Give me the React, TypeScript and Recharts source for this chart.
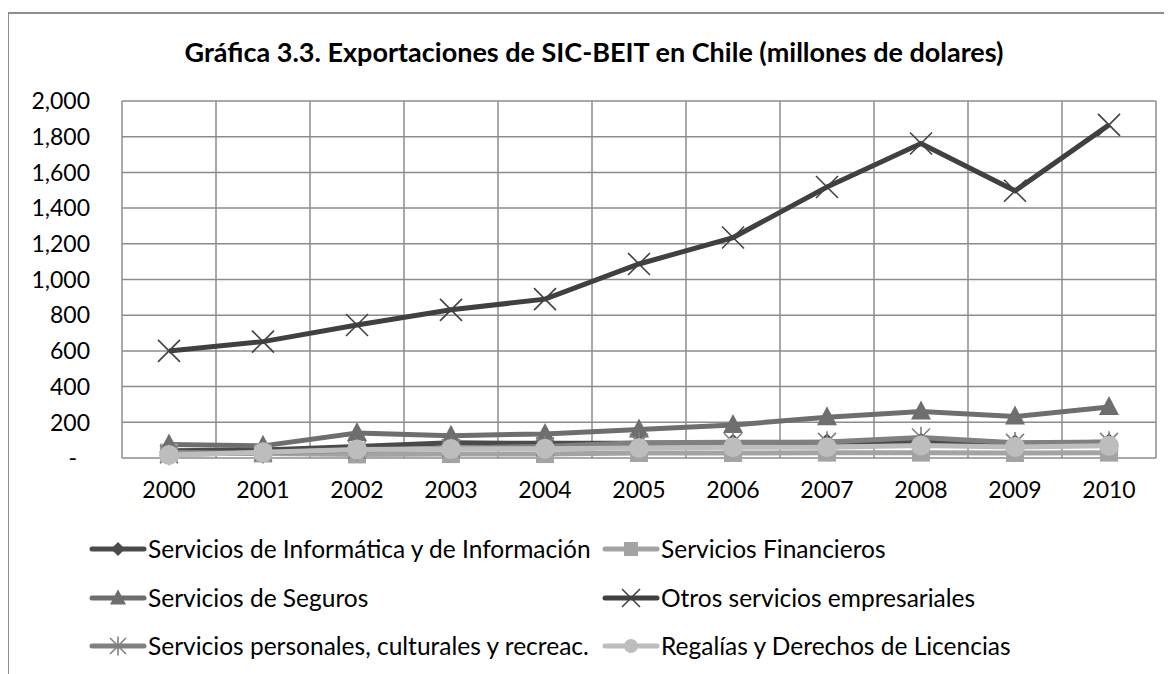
import React from 'react';
import { LineChart, Line, XAxis, YAxis, CartesianGrid } from 'recharts';

const years = ['2000', '2001', '2002', '2003', '2004', '2005', '2006', '2007', '2008', '2009', '2010'];
const informatica = [40, 45, 65, 85, 82, 82, 85, 88, 92, 82, 88];
const financieros = [30, 25, 20, 22, 22, 28, 28, 30, 30, 28, 30];
const seguros = [75, 68, 140, 125, 135, 160, 185, 228, 260, 232, 286];
const otros = [600, 652, 745, 830, 890, 1087, 1235, 1518, 1762, 1497, 1866];
const personales = [20, 30, 45, 55, 65, 85, 88, 90, 115, 85, 90];
const regalias = [17, 32, 48, 50, 52, 56, 60, 60, 70, 62, 68];
const yTicks = [0, 200, 400, 600, 800, 1000, 1200, 1400, 1600, 1800, 2000];

const title = 'Gráfica 3.3. Exportaciones de SIC-BEIT en Chile (millones de dolares)';

type Kind = 'diamond' | 'square' | 'triangle' | 'x' | 'asterisk' | 'circle';

const seriesDefs: { key: string; name: string; color: string; kind: Kind; values: number[] }[] = [
  { key: 'informatica', name: 'Servicios de Informática y de Información', color: '#4a4a4a', kind: 'diamond', values: informatica },
  { key: 'financieros', name: 'Servicios Financieros', color: '#a3a3a3', kind: 'square', values: financieros },
  { key: 'seguros', name: 'Servicios de Seguros', color: '#6e6e6e', kind: 'triangle', values: seguros },
  { key: 'otros', name: 'Otros servicios empresariales', color: '#404040', kind: 'x', values: otros },
  { key: 'personales', name: 'Servicios personales, culturales y recreac.', color: '#808080', kind: 'asterisk', values: personales },
  { key: 'regalias', name: 'Regalías y Derechos de Licencias', color: '#bdbdbd', kind: 'circle', values: regalias },
];

const data = years.map((y, i) => {
  const row: Record<string, string | number> = { year: y };
  seriesDefs.forEach((s) => {
    row[s.key] = s.values[i];
  });
  return row;
});

const FONT = 'Lato, "Open Sans", sans-serif';

function Marker({ kind, cx, cy, color, s }: { kind: Kind; cx: number; cy: number; color: string; s: number }) {
  switch (kind) {
    case 'diamond':
      return <polygon points={`${cx},${cy - s} ${cx + s},${cy} ${cx},${cy + s} ${cx - s},${cy}`} fill={color} />;
    case 'square':
      return <rect x={cx - s} y={cy - s} width={2 * s} height={2 * s} fill={color} />;
    case 'triangle':
      return <polygon points={`${cx},${cy - s * 1.1} ${cx + s},${cy + s * 0.8} ${cx - s},${cy + s * 0.8}`} fill={color} />;
    case 'x':
      return (
        <g stroke={color} strokeWidth={1.6}>
          <line x1={cx - s} y1={cy - s} x2={cx + s} y2={cy + s} />
          <line x1={cx - s} y1={cy + s} x2={cx + s} y2={cy - s} />
        </g>
      );
    case 'asterisk':
      return (
        <g stroke={color} strokeWidth={1.6}>
          <line x1={cx - s} y1={cy - s} x2={cx + s} y2={cy + s} />
          <line x1={cx - s} y1={cy + s} x2={cx + s} y2={cy - s} />
          <line x1={cx} y1={cy - s * 1.2} x2={cx} y2={cy + s * 1.2} />
        </g>
      );
    case 'circle':
    default:
      return <circle cx={cx} cy={cy} r={s} fill={color} />;
  }
}

const plotSize: Record<Kind, number> = { diamond: 9, square: 9, triangle: 10, x: 11, asterisk: 9, circle: 10 };
const legendSize: Record<Kind, number> = { diamond: 7, square: 7, triangle: 8, x: 9, asterisk: 8, circle: 7 };

const makeDot = (kind: Kind, color: string) => (props: any) => {
  const { cx, cy, index } = props;
  if (cx == null || cy == null) return <g key={`d-${index}`} />;
  return (
    <g key={`d-${kind}-${index}`}>
      <Marker kind={kind} cx={cx} cy={cy} color={color} s={plotSize[kind]} />
    </g>
  );
};

const YTick = (props: any) => {
  const { x, y, payload } = props;
  const v = payload.value as number;
  const label = v === 0 ? '-' : v.toLocaleString('en-US');
  return (
    <text x={v === 0 ? x - 13 : x} y={y} dy="0.36em" textAnchor="end" fill="#000" fontSize={23} fontFamily={FONT}>
      {label}
    </text>
  );
};

const legendRows = [
  [0, 1],
  [2, 3],
  [4, 5],
];

export default function App() {
  return (
    <div
      style={{
        position: 'relative',
        width: 1172,
        height: 674,
        margin: '-8px 0 0 -8px',
        overflow: 'hidden',
        background: '#fff',
        fontFamily: FONT,
      }}
    >
      <div
        style={{
          position: 'absolute',
          left: 7,
          top: 12,
          width: 1200,
          height: 700,
          border: '2px solid #8e8e8e',
          boxSizing: 'border-box',
        }}
      />
      <div
        style={{
          position: 'absolute',
          left: 8,
          top: 35,
          width: 1172,
          textAlign: 'center',
          fontWeight: 700,
          fontSize: 27,
          lineHeight: '34px',
          color: '#000',
        }}
      >
        {title}
      </div>
      <div style={{ position: 'absolute', left: 0, top: 0 }}>
        <LineChart width={1172} height={674} data={data} margin={{ top: 101, right: 16, left: 22, bottom: 176 }}>
          <CartesianGrid
            stroke="#8c8c8c"
            strokeWidth={1.5}
            verticalCoordinatesGenerator={({ offset }: any) =>
              Array.from({ length: years.length + 1 }, (_, i) => offset.left + (i * offset.width) / years.length)
            }
          />
          <XAxis
            dataKey="year"
            height={40}
            padding={{ left: 47, right: 47 }}
            tickLine={false}
            axisLine={false}
            tickSize={0}
            tickMargin={24}
            tick={{ fill: '#000', fontSize: 23, fontFamily: FONT }}
            interval={0}
          />
          <YAxis
            width={100}
            domain={[0, 2000]}
            ticks={yTicks}
            interval={0}
            tickLine={false}
            axisLine={false}
            tickSize={0}
            tickMargin={32}
            tick={<YTick />}
          />
          {seriesDefs.map((s) => (
            <Line
              key={s.key}
              dataKey={s.key}
              name={s.name}
              stroke={s.color}
              strokeWidth={5}
              dot={makeDot(s.kind, s.color)}
              activeDot={false}
              isAnimationActive={false}
            />
          ))}
        </LineChart>
      </div>
      {legendRows.map((row, r) =>
        row.map((si, c) => {
          const s = seriesDefs[si];
          const left = c === 0 ? 88 : 601;
          const top = [549, 598, 646][r];
          return (
            <div
              key={s.key}
              style={{
                position: 'absolute',
                left,
                top: top - 15,
                height: 30,
                display: 'flex',
                alignItems: 'center',
                whiteSpace: 'nowrap',
              }}
            >
              <svg width={60} height={30} style={{ display: 'block' }}>
                <line x1={4} y1={15} x2={56} y2={15} stroke={s.color} strokeWidth={5} strokeLinecap="round" />
                <Marker kind={s.kind} cx={30} cy={15} color={s.color} s={legendSize[s.kind]} />
              </svg>
              <span style={{ fontSize: 24.5, color: '#000', lineHeight: '30px' }}>{s.name}</span>
            </div>
          );
        })
      )}
    </div>
  );
}
